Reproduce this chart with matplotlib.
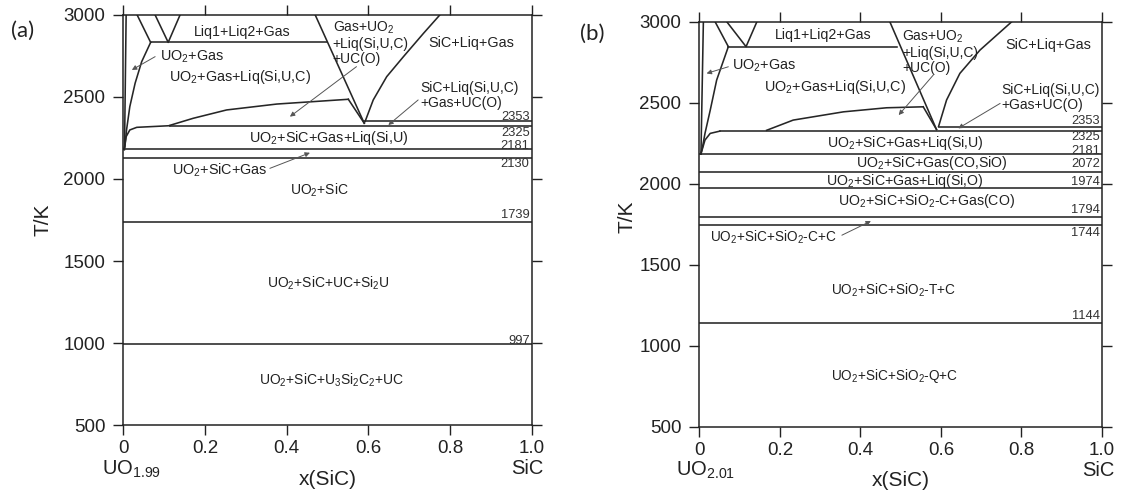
import matplotlib
matplotlib.use("Agg")
import matplotlib.pyplot as plt

plt.rcParams['font.family'] = ['Liberation Sans', 'DejaVu Sans']
plt.rcParams['mathtext.default'] = 'regular'

# ---------------- data: panel (a) UO1.99-SiC ----------------
a_isotherms = [2353, 2325, 2181, 2130, 1739, 997]
a_iso_start = [0.59, 0.114, 0.0, 0.0, 0.0, 0.0]
a_iso_label_T = [2380, 2282, 2203, 2090, 1780, 1014]

a_near_vertical_x = [0.007, 0.003]
a_near_vertical_T = [3000, 2180]
a_uo2gas_x = [0.067, 0.045, 0.029, 0.016, 0.008, 0.004, 0.002]
a_uo2gas_T = [2833, 2715, 2584, 2441, 2299, 2197, 2180]
a_top_left_x = [0.034, 0.067]
a_top_left_T = [3000, 2833]
a_vee_x = [0.078, 0.110, 0.139]
a_vee_T = [3000, 2833, 3000]
a_liq12_x = [0.067, 0.50]
a_liq12_T = [2833, 2833]
a_gasuo2_x = [0.470, 0.590]
a_gasuo2_T = [3000, 2340]
a_kink_x = [0.551, 0.590]
a_kink_T = [2486, 2340]
a_upper_x = [0.114, 0.171, 0.253, 0.376, 0.551]
a_upper_T = [2327, 2370, 2421, 2457, 2486]
a_sic_x = [0.592, 0.612, 0.645, 0.686, 0.735, 0.775]
a_sic_T = [2350, 2482, 2624, 2746, 2888, 3000]
a_lowleft_x = [0.002, 0.007, 0.016, 0.033, 0.114]
a_lowleft_T = [2180, 2258, 2299, 2315, 2325]

# ---------------- data: panel (b) UO2.01-SiC ----------------
b_isotherms = [2353, 2325, 2181, 2072, 1974, 1794, 1744, 1144]
b_iso_start = [0.594, 0.051, 0.0, 0.0, 0.0, 0.0, 0.0, 0.0]
b_iso_label_T = [2389, 2290, 2204, 2120, 2012, 1838, 1694, 1183]

b_near_vertical_x = [0.010, 0.004]
b_near_vertical_T = [3000, 2183]
b_uo2gas_x = [0.072, 0.043, 0.027, 0.014, 0.008, 0.004]
b_uo2gas_T = [2846, 2640, 2454, 2311, 2229, 2185]
b_top_left_x = [0.039, 0.072]
b_top_left_T = [3000, 2846]
b_vee_x = [0.068, 0.116, 0.143]
b_vee_T = [3000, 2846, 3000]
b_liq12_x = [0.072, 0.49]
b_liq12_T = [2846, 2846]
b_gasuo2_x = [0.473, 0.589]
b_gasuo2_T = [3000, 2335]
b_kink_x = [0.556, 0.589]
b_kink_T = [2475, 2335]
b_upper_x = [0.167, 0.233, 0.358, 0.465, 0.556]
b_upper_T = [2330, 2393, 2444, 2469, 2475]
b_sic_x = [0.594, 0.614, 0.647, 0.697, 0.776]
b_sic_T = [2353, 2517, 2681, 2825, 3000]
b_lowleft_x = [0.004, 0.014, 0.027, 0.051]
b_lowleft_T = [2185, 2270, 2311, 2325]

# region labels: (text, x, T, ha, fontsize)
a_labels = [
    ("Liq1+Liq2+Gas", 0.29, 2895, 'center', 10.2),
    ("UO$_2$+Gas", 0.09, 2744, 'left', 10.4),
    ("UO$_2$+Gas+Liq(Si,U,C)", 0.286, 2620, 'center', 10.4),
    ("Gas+UO$_2$\n+Liq(Si,U,C)\n+UC(O)", 0.513, 2830, 'left', 10.0),
    ("SiC+Liq+Gas", 0.853, 2831, 'center', 10.4),
    ("SiC+Liq(Si,U,C)\n+Gas+UC(O)", 0.727, 2511, 'left', 10.0),
    ("UO$_2$+SiC+Gas+Liq(Si,U)", 0.502, 2248, 'center', 10.4),
    ("UO$_2$+SiC+Gas", 0.237, 2051, 'center', 10.4),
    ("UO$_2$+SiC", 0.481, 1929, 'center', 10.0),
    ("UO$_2$+SiC+UC+Si$_2$U", 0.502, 1364, 'center', 10.0),
    ("UO$_2$+SiC+U$_3$Si$_2$C$_2$+UC", 0.51, 774, 'center', 10.0),
]
# arrows: (x_from, T_from, x_to, T_to)
a_arrows = [
    (0.078, 2746, 0.021, 2665),
    (0.571, 2685, 0.408, 2380),
    (0.722, 2482, 0.649, 2329),
    (0.359, 2065, 0.457, 2160),
]

b_labels = [
    ("Liq1+Liq2+Gas", 0.308, 2918, 'center', 10.2),
    ("UO$_2$+Gas", 0.080, 2728, 'left', 10.4),
    ("UO$_2$+Gas+Liq(Si,U,C)", 0.337, 2595, 'center', 10.4),
    ("Gas+UO$_2$\n+Liq(Si,U,C)\n+UC(O)", 0.503, 2815, 'left', 10.0),
    ("SiC+Liq+Gas", 0.867, 2856, 'center', 10.4),
    ("SiC+Liq(Si,U,C)\n+Gas+UC(O)", 0.751, 2532, 'left', 10.0),
    ("UO$_2$+SiC+Gas+Liq(Si,U)", 0.511, 2253, 'center', 10.2),
    ("UO$_2$+SiC+Gas(CO,SiO)", 0.577, 2126, 'center', 10.2),
    ("UO$_2$+SiC+Gas+Liq(Si,O)", 0.511, 2017, 'center', 10.2),
    ("UO$_2$+SiC+SiO$_2$-C+Gas(CO)", 0.565, 1896, 'center', 10.2),
    ("UO$_2$+SiC+SiO$_2$-C+C", 0.184, 1673, 'center', 9.8),
    ("UO$_2$+SiC+SiO$_2$-T+C", 0.482, 1344, 'center', 9.8),
    ("UO$_2$+SiC+SiO$_2$-Q+C", 0.486, 813, 'center', 9.8),
]
b_arrows = [
    (0.072, 2722, 0.018, 2681),
    (0.581, 2671, 0.495, 2424),
    (0.747, 2496, 0.643, 2342),
    (0.354, 1683, 0.426, 1770),
]

x_ticks = [0, 0.2, 0.4, 0.6, 0.8, 1.0]
x_ticklabels = ["0", "0.2", "0.4", "0.6", "0.8", "1.0"]
y_ticks = [500, 1000, 1500, 2000, 2500, 3000]

LC = '#262626'
LW = 1.15

fig = plt.figure(figsize=(11.32, 4.93), dpi=100)
axA = fig.add_axes([0.1089, 0.1379, 0.3608, 0.8317])
axB = fig.add_axes([0.6178, 0.1339, 0.3557, 0.8221])


def draw(ax, curves, isotherms, iso_start, iso_label_T, labels, arrows, left_comp, left_x,
         ylab_xy):
    ax.set_xlim(0, 1)
    ax.set_ylim(500, 3000)
    for xs, ts in curves:
        ax.plot(xs, ts, color=LC, lw=LW, solid_joinstyle='round')
    for T, x0, lt in zip(isotherms, iso_start, iso_label_T):
        ax.plot([x0, 1.0], [T, T], color=LC, lw=LW)
        ax.text(0.995, lt, str(T), ha='right', va='center', fontsize=9.3, color='#333333')
    for txt, x, T, ha, fs in labels:
        ax.text(x, T, txt, ha=ha, va='center', fontsize=fs, color='#222222',
                multialignment='left', linespacing=1.12)
    for x0, t0, x1, t1 in arrows:
        ax.annotate('', xy=(x1, t1), xytext=(x0, t0),
                    arrowprops=dict(arrowstyle='-|>', color='#555555', lw=0.7,
                                    mutation_scale=7, shrinkA=0, shrinkB=0))
    ax.set_xticks(x_ticks)
    ax.set_xticklabels(x_ticklabels)
    ax.set_yticks(y_ticks)
    ax.tick_params(direction='out', length=7, width=1.0, labelsize=13.5,
                   top=True, right=True, pad=4, colors='#222222')
    ax.tick_params(axis='y', pad=6)
    for s in ax.spines.values():
        s.set_linewidth(1.1)
        s.set_color('#222222')
    ax.text(ylab_xy[0], ylab_xy[1], 'T/K', transform=ax.transAxes, rotation=90,
            ha='center', va='center', fontsize=15, color='#222222')
    ax.text(left_x, -0.107, left_comp, transform=ax.transAxes, ha='left', va='center',
            fontsize=14.5, color='#222222')
    ax.text(0.99, -0.107, 'SiC', transform=ax.transAxes, ha='center', va='center',
            fontsize=14.5, color='#222222')
    ax.text(0.5, -0.133, 'x(SiC)', transform=ax.transAxes, ha='center', va='center',
            fontsize=15, color='#222222')


curvesA = [
    (a_near_vertical_x, a_near_vertical_T), (a_uo2gas_x, a_uo2gas_T),
    (a_top_left_x, a_top_left_T), (a_vee_x, a_vee_T), (a_liq12_x, a_liq12_T),
    (a_gasuo2_x, a_gasuo2_T), (a_kink_x, a_kink_T), (a_upper_x, a_upper_T),
    (a_sic_x, a_sic_T), (a_lowleft_x, a_lowleft_T),
]
curvesB = [
    (b_near_vertical_x, b_near_vertical_T), (b_uo2gas_x, b_uo2gas_T),
    (b_top_left_x, b_top_left_T), (b_vee_x, b_vee_T), (b_liq12_x, b_liq12_T),
    (b_gasuo2_x, b_gasuo2_T), (b_kink_x, b_kink_T), (b_upper_x, b_upper_T),
    (b_sic_x, b_sic_T), (b_lowleft_x, b_lowleft_T),
]

draw(axA, curvesA, a_isotherms, a_iso_start, a_iso_label_T, a_labels, a_arrows,
     'UO$_{1.99}$', -0.052, (-0.197, 0.50))
draw(axB, curvesB, b_isotherms, b_iso_start, b_iso_label_T, b_labels, b_arrows,
     'UO$_{2.01}$', -0.058, (-0.180, 0.518))

fig.text(23 / 1132, 1 - 31 / 493, '(a)', fontsize=16, family=['Lato', 'DejaVu Sans'],
         ha='center', va='center', color='#222222')
fig.text(592 / 1132, 1 - 34 / 493, '(b)', fontsize=16, family=['Lato', 'DejaVu Sans'],
         ha='center', va='center', color='#222222')

fig.savefig('out.png', dpi=100)
